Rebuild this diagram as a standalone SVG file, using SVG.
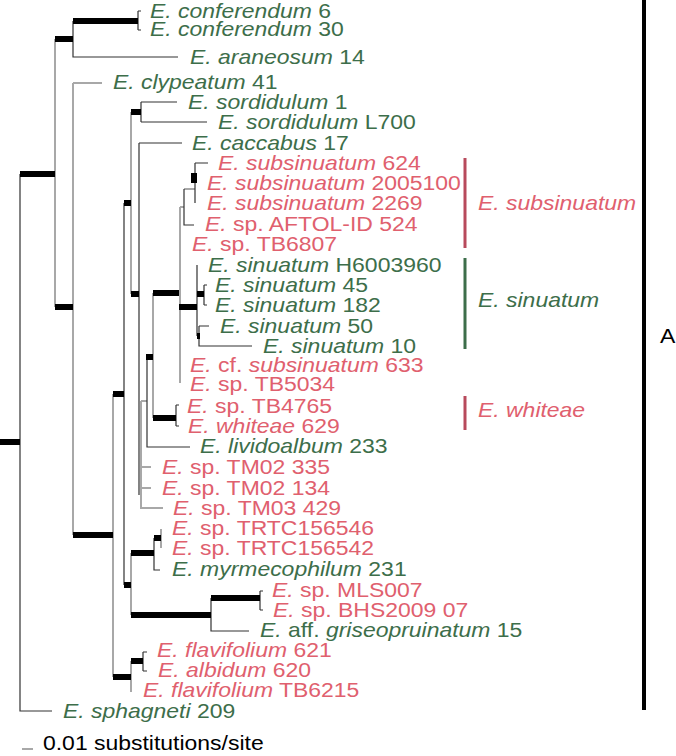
<svg xmlns="http://www.w3.org/2000/svg" width="676" height="756" viewBox="0 0 676 756">
<style>
.t{font-family:"Liberation Sans",Arial,sans-serif;font-size:20.5px;transform-box:fill-box;transform-origin:left center;transform:scaleX(1.12)}
.i{font-style:italic}
.g{fill:#3d6e4a}
.p{fill:#e0606e}
.k{fill:#000}
.dk{fill:none;stroke:#333;stroke-width:1.2}
.gr{fill:none;stroke:#a8a8a8;stroke-width:2}
.th{fill:none;stroke:#000;stroke-width:6}
</style>
<rect width="676" height="756" fill="#fff"/>
<g id="connectors">
<path class="gr" d="M55,39V307 M73,83V535 M73,83H102 M113,394V677 M131,112V294 M184,189H195 M180,207V383 M180,207H184 M153,293V418 M141,401V508H163 M141,401H147 M141,467H151 M141,488H151 M131,553V615 M161,529V548 M131,661V692"/>
<path class="gr" d="M180,225V245" stroke-width="3"/>
<path class="dk" d="M20,174V711H52 M73,21V57H178 M138,11V30 M138,11H141 M138,30H141 M124,203V585 M141,102V122 M141,102H177 M141,122H207 M139,143V495 M139,143H182 M195,163V203 M195,163H208 M184,189V225H194 M147,357V447H190 M176,405V426 M176,405H179 M176,426H179 M197,265V336 M204,285V305 M204,285H207 M204,305H207 M199,326V346H252 M199,326H209 M154,538V570H160 M211,598V631H249 M260,591V610 M260,591H263 M260,610H263 M143,652V671 M143,652H147 M143,671H147"/>
<path class="th" d="M0,442H20 M20,174H55 M55,39H73 M73,21H138 M55,307H73 M73,535H113 M113,394H124 M124,203H131 M131,112H141 M131,294H139 M146,357H153 M153,293H179 M179,307H197 M197,294H204 M153,418H176 M124,585H131 M131,553H154 M154,538H161 M131,615H211 M211,598H260 M113,677H131 M131,661H143"/>
<path class="th" d="M197,336H200 M194,173V183" stroke-width="3"/>
</g>
<g id="n1"><text class="t g" x="150" y="17.5"><tspan class="i">E. conferendum</tspan> 6</text></g>
<g id="n2"><text class="t g" x="150" y="36.5"><tspan class="i">E. conferendum</tspan> 30</text></g>
<g id="n3"><text class="t g" x="190" y="64"><tspan class="i">E. araneosum</tspan> 14</text></g>
<g id="n4"><text class="t g" x="113" y="89.5"><tspan class="i">E. clypeatum</tspan> 41</text></g>
<g id="n5"><text class="t g" x="188" y="109.5"><tspan class="i">E. sordidulum</tspan> 1</text></g>
<g id="n6"><text class="t g" x="218" y="129.5"><tspan class="i">E. sordidulum</tspan> L700</text></g>
<g id="n7"><text class="t g" x="192" y="150"><tspan class="i">E. caccabus</tspan> 17</text></g>
<g id="n8"><text class="t p" x="218" y="170"><tspan class="i">E. subsinuatum</tspan> 624</text></g>
<g id="n9"><text class="t p" x="207" y="190"><tspan class="i">E. subsinuatum</tspan> 2005100</text></g>
<g id="n10"><text class="t p" x="207" y="210"><tspan class="i">E. subsinuatum</tspan> 2269</text></g>
<g id="n11"><text class="t p" x="205" y="231"><tspan class="i">E.</tspan> sp. AFTOL-ID 524</text></g>
<g id="n12"><text class="t p" x="192" y="251"><tspan class="i">E.</tspan> sp. TB6807</text></g>
<g id="n13"><text class="t g" x="208" y="272"><tspan class="i">E. sinuatum</tspan> H6003960</text></g>
<g id="n14"><text class="t g" x="215" y="292"><tspan class="i">E. sinuatum</tspan> 45</text></g>
<g id="n15"><text class="t g" x="215" y="312"><tspan class="i">E. sinuatum</tspan> 182</text></g>
<g id="n16"><text class="t g" x="220" y="333"><tspan class="i">E. sinuatum</tspan> 50</text></g>
<g id="n17"><text class="t g" x="263" y="353"><tspan class="i">E. sinuatum</tspan> 10</text></g>
<g id="n18"><text class="t p" x="190" y="372"><tspan class="i">E.</tspan> cf. <tspan class="i">subsinuatum</tspan> 633</text></g>
<g id="n19"><text class="t p" x="190" y="391"><tspan class="i">E.</tspan> sp. TB5034</text></g>
<g id="n20"><text class="t p" x="187" y="413"><tspan class="i">E.</tspan> sp. TB4765</text></g>
<g id="n21"><text class="t p" x="188" y="433"><tspan class="i">E. whiteae</tspan> 629</text></g>
<g id="n22"><text class="t g" x="200" y="453"><tspan class="i">E. lividoalbum</tspan> 233</text></g>
<g id="n23"><text class="t p" x="162" y="474"><tspan class="i">E.</tspan> sp. TM02 335</text></g>
<g id="n24"><text class="t p" x="162" y="495"><tspan class="i">E.</tspan> sp. TM02 134</text></g>
<g id="n25"><text class="t p" x="173" y="515"><tspan class="i">E.</tspan> sp. TM03 429</text></g>
<g id="n26"><text class="t p" x="172" y="535"><tspan class="i">E.</tspan> sp. TRTC156546</text></g>
<g id="n27"><text class="t p" x="172" y="555"><tspan class="i">E.</tspan> sp. TRTC156542</text></g>
<g id="n28"><text class="t g" x="172" y="576"><tspan class="i">E. myrmecophilum</tspan> 231</text></g>
<g id="n29"><text class="t p" x="272" y="597"><tspan class="i">E.</tspan> sp. MLS007</text></g>
<g id="n30"><text class="t p" x="273" y="617"><tspan class="i">E.</tspan> sp. BHS2009 07</text></g>
<g id="n31"><text class="t g" x="260" y="637"><tspan class="i">E.</tspan> aff. <tspan class="i">griseopruinatum</tspan> 15</text></g>
<g id="n32"><text class="t p" x="157" y="657"><tspan class="i">E. flavifolium</tspan> 621</text></g>
<g id="n33"><text class="t p" x="158" y="677"><tspan class="i">E. albidum</tspan> 620</text></g>
<g id="n34"><text class="t p" x="143" y="697"><tspan class="i">E. flavifolium</tspan> TB6215</text></g>
<g id="n35"><text class="t g" x="63" y="718"><tspan class="i">E. sphagneti</tspan> 209</text></g>
<g id="clade-subsinuatum"><rect x="463.5" y="158" width="3" height="90" fill="#b84a5c"/><text class="t i p" x="478" y="210">E. subsinuatum</text></g>
<g id="clade-sinuatum"><rect x="463.5" y="258" width="3" height="91" fill="#3d6e4a"/><text class="t i g" x="478" y="307">E. sinuatum</text></g>
<g id="clade-whiteae"><rect x="463.5" y="396" width="3" height="34" fill="#b84a5c"/><text class="t i p" x="478" y="417">E. whiteae</text></g>
<g id="clade-A"><rect x="642" y="0" width="4" height="710" fill="#000"/><text class="t k" x="660" y="343">A</text></g>
<g id="scale"><path class="gr" d="M22,749H33"/><text class="t k" x="43" y="750">0.01 substitutions/site</text></g>
</svg>
